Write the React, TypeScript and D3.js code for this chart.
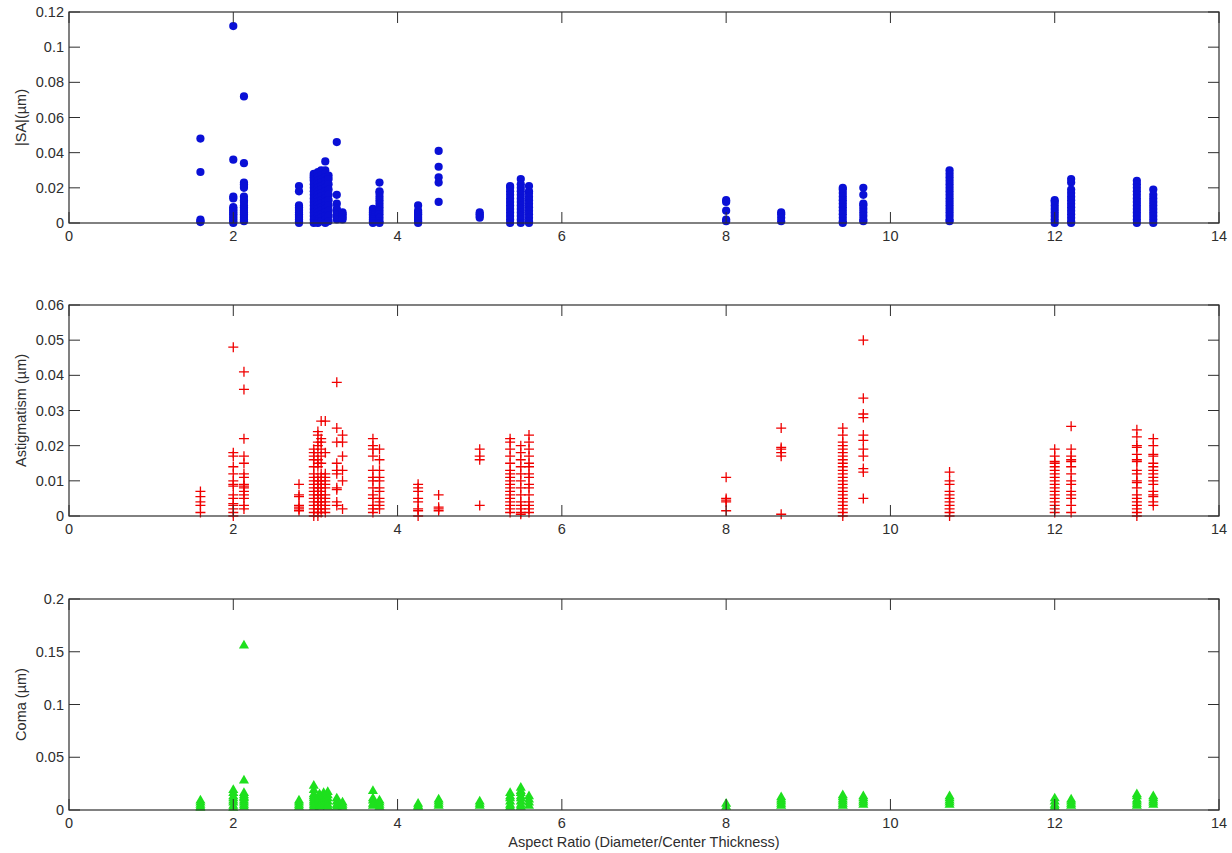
import React from "react";
import * as d3 from "d3";

// aspect ratio groups and the measured values at each one
const saData: [number, number[]][] = [
  [1.6, [0.048, 0.029, 0.002, 0.001, 0.0005]],
  [2.0, [0.112, 0.036, 0.015, 0.014, 0.009, 0.008, 0.007, 0.006, 0.005, 0.004, 0.003, 0.002, 0.001, 0.0]],
  [2.13, [0.072, 0.034, 0.023, 0.022, 0.021, 0.02, 0.015, 0.013, 0.012, 0.01, 0.009, 0.008, 0.007, 0.006, 0.005, 0.004, 0.003, 0.002, 0.001]],
  [2.8, [0.021, 0.018, 0.01, 0.009, 0.008, 0.007, 0.006, 0.005, 0.004, 0.003, 0.002, 0.001, 0.0]],
  [2.98, [0.028, 0.027, 0.026, 0.025, 0.024, 0.022, 0.02, 0.018, 0.016, 0.014, 0.012, 0.01, 0.008, 0.006, 0.004, 0.002, 0.0]],
  [3.03, [0.029, 0.028, 0.026, 0.024, 0.022, 0.02, 0.018, 0.016, 0.014, 0.012, 0.01, 0.008, 0.006, 0.004, 0.002, 0.001, 0.0]],
  [3.07, [0.03, 0.027, 0.025, 0.023, 0.021, 0.019, 0.017, 0.015, 0.013, 0.011, 0.009, 0.007, 0.005, 0.003, 0.001]],
  [3.12, [0.035, 0.03, 0.028, 0.026, 0.024, 0.022, 0.02, 0.018, 0.016, 0.014, 0.012, 0.01, 0.008, 0.006, 0.004, 0.002, 0.0]],
  [3.16, [0.027, 0.025, 0.022, 0.019, 0.016, 0.013, 0.01, 0.007, 0.004, 0.001]],
  [3.26, [0.046, 0.016, 0.011, 0.008, 0.007, 0.005, 0.004, 0.003, 0.002]],
  [3.33, [0.006, 0.005, 0.004, 0.003, 0.002]],
  [3.7, [0.008, 0.007, 0.006, 0.005, 0.004, 0.003, 0.002, 0.001, 0.0]],
  [3.78, [0.023, 0.018, 0.017, 0.015, 0.013, 0.011, 0.009, 0.007, 0.005, 0.003, 0.001, 0.0]],
  [4.25, [0.01, 0.007, 0.006, 0.005, 0.004, 0.003, 0.002, 0.001, 0.0]],
  [4.5, [0.041, 0.032, 0.026, 0.023, 0.012]],
  [5.0, [0.006, 0.005, 0.004, 0.003]],
  [5.37, [0.021, 0.02, 0.018, 0.016, 0.014, 0.012, 0.01, 0.008, 0.006, 0.004, 0.002, 0.0]],
  [5.5, [0.025, 0.022, 0.02, 0.018, 0.016, 0.014, 0.012, 0.01, 0.008, 0.006, 0.004, 0.002, 0.0]],
  [5.6, [0.021, 0.018, 0.017, 0.015, 0.013, 0.011, 0.009, 0.007, 0.005, 0.003, 0.001, 0.0]],
  [8.0, [0.013, 0.012, 0.007, 0.002, 0.001]],
  [8.67, [0.006, 0.005, 0.003, 0.001]],
  [9.42, [0.02, 0.019, 0.017, 0.015, 0.013, 0.011, 0.009, 0.007, 0.005, 0.003, 0.001, 0.0]],
  [9.67, [0.02, 0.016, 0.011, 0.01, 0.008, 0.006, 0.004, 0.002, 0.001]],
  [10.72, [0.03, 0.028, 0.026, 0.024, 0.022, 0.02, 0.018, 0.016, 0.014, 0.012, 0.01, 0.008, 0.006, 0.004, 0.002, 0.001]],
  [12.0, [0.013, 0.012, 0.01, 0.008, 0.006, 0.004, 0.002, 0.0]],
  [12.2, [0.025, 0.023, 0.019, 0.017, 0.015, 0.013, 0.011, 0.009, 0.007, 0.005, 0.003, 0.001, 0.0]],
  [13.0, [0.024, 0.022, 0.02, 0.018, 0.016, 0.014, 0.012, 0.01, 0.008, 0.006, 0.004, 0.002, 0.0]],
  [13.2, [0.019, 0.016, 0.014, 0.012, 0.01, 0.008, 0.006, 0.004, 0.002, 0.0]],
];

const astData: [number, number[]][] = [
  [1.6, [0.007, 0.0055, 0.004, 0.003, 0.001]],
  [2.0, [0.048, 0.018, 0.017, 0.014, 0.012, 0.01, 0.009, 0.0085, 0.006, 0.005, 0.0035, 0.003, 0.002, 0.001, 0.0]],
  [2.13, [0.041, 0.036, 0.022, 0.017, 0.015, 0.012, 0.011, 0.009, 0.0085, 0.008, 0.007, 0.006, 0.005, 0.003, 0.002]],
  [2.8, [0.009, 0.006, 0.0055, 0.003, 0.0025, 0.002, 0.0015]],
  [2.98, [0.019, 0.018, 0.017, 0.016, 0.014, 0.012, 0.011, 0.01, 0.009, 0.008, 0.007, 0.006, 0.005, 0.004, 0.003, 0.002, 0.001, 0.0]],
  [3.03, [0.024, 0.023, 0.021, 0.02, 0.018, 0.016, 0.015, 0.014, 0.011, 0.01, 0.009, 0.008, 0.007, 0.006, 0.005, 0.004, 0.003, 0.002, 0.001, 0.0]],
  [3.07, [0.027, 0.022, 0.021, 0.019, 0.017, 0.015, 0.012, 0.011, 0.01, 0.009, 0.008, 0.007, 0.006, 0.005, 0.004, 0.003, 0.002, 0.001]],
  [3.12, [0.027, 0.018, 0.012, 0.011, 0.01, 0.009, 0.008, 0.006, 0.005, 0.004, 0.003, 0.002, 0.001]],
  [3.26, [0.038, 0.025, 0.021, 0.015, 0.013, 0.012, 0.008, 0.0075, 0.004, 0.003]],
  [3.33, [0.023, 0.021, 0.017, 0.013, 0.01, 0.002]],
  [3.7, [0.022, 0.02, 0.019, 0.017, 0.013, 0.011, 0.01, 0.008, 0.006, 0.005, 0.003, 0.002, 0.001]],
  [3.78, [0.019, 0.016, 0.013, 0.011, 0.01, 0.008, 0.007, 0.005, 0.004, 0.003, 0.002]],
  [4.25, [0.009, 0.008, 0.007, 0.005, 0.004, 0.002, 0.0015, 0.0]],
  [4.5, [0.006, 0.0025, 0.002, 0.0015]],
  [5.0, [0.019, 0.017, 0.016, 0.003]],
  [5.37, [0.022, 0.021, 0.019, 0.017, 0.015, 0.013, 0.012, 0.011, 0.01, 0.009, 0.008, 0.007, 0.006, 0.005, 0.004, 0.003, 0.002, 0.001]],
  [5.5, [0.02, 0.018, 0.016, 0.014, 0.012, 0.01, 0.008, 0.006, 0.004, 0.003, 0.002, 0.001, 0.0005]],
  [5.6, [0.023, 0.021, 0.019, 0.017, 0.015, 0.014, 0.012, 0.011, 0.009, 0.008, 0.006, 0.004, 0.003, 0.002, 0.001]],
  [8.0, [0.011, 0.005, 0.0045, 0.004, 0.0015]],
  [8.67, [0.025, 0.0195, 0.019, 0.018, 0.017, 0.0005]],
  [9.42, [0.025, 0.023, 0.021, 0.02, 0.019, 0.018, 0.017, 0.016, 0.015, 0.014, 0.013, 0.012, 0.011, 0.01, 0.009, 0.008, 0.007, 0.006, 0.005, 0.004, 0.003, 0.002, 0.001, 0.0]],
  [9.67, [0.05, 0.0335, 0.029, 0.028, 0.023, 0.0215, 0.019, 0.017, 0.0135, 0.0125, 0.005]],
  [10.72, [0.0125, 0.01, 0.009, 0.007, 0.006, 0.005, 0.004, 0.003, 0.002, 0.001, 0.0]],
  [12.0, [0.019, 0.017, 0.0155, 0.015, 0.014, 0.013, 0.012, 0.011, 0.01, 0.009, 0.008, 0.007, 0.006, 0.005, 0.004, 0.003, 0.002, 0.001]],
  [12.2, [0.0255, 0.019, 0.017, 0.016, 0.0155, 0.014, 0.012, 0.01, 0.009, 0.007, 0.006, 0.005, 0.003, 0.001]],
  [13.0, [0.0245, 0.0225, 0.02, 0.0195, 0.0175, 0.016, 0.0155, 0.013, 0.012, 0.01, 0.0095, 0.008, 0.006, 0.005, 0.004, 0.003, 0.002, 0.001, 0.0]],
  [13.2, [0.022, 0.02, 0.0175, 0.017, 0.015, 0.014, 0.013, 0.012, 0.011, 0.01, 0.009, 0.007, 0.006, 0.0055, 0.004, 0.003]],
];

const comaData: [number, number[]][] = [
  [1.6, [0.008, 0.006, 0.004, 0.002, 0.001]],
  [2.0, [0.018, 0.015, 0.012, 0.01, 0.008, 0.006, 0.003, 0.001]],
  [2.13, [0.155, 0.027, 0.015, 0.013, 0.011, 0.01, 0.008, 0.006, 0.004, 0.002]],
  [2.8, [0.008, 0.006, 0.004, 0.002]],
  [2.98, [0.022, 0.018, 0.014, 0.012, 0.01, 0.008, 0.006, 0.004, 0.002]],
  [3.05, [0.014, 0.012, 0.01, 0.008, 0.006, 0.004, 0.002]],
  [3.1, [0.015, 0.012, 0.009, 0.006, 0.003]],
  [3.15, [0.016, 0.013, 0.01, 0.007, 0.004, 0.002]],
  [3.26, [0.01, 0.007, 0.004, 0.002]],
  [3.33, [0.006, 0.004, 0.002]],
  [3.7, [0.017, 0.01, 0.008, 0.005, 0.003]],
  [3.78, [0.008, 0.006, 0.004, 0.002]],
  [4.25, [0.005, 0.003, 0.002]],
  [4.5, [0.009, 0.007, 0.005, 0.003]],
  [5.0, [0.007, 0.005, 0.003]],
  [5.37, [0.015, 0.012, 0.01, 0.007, 0.004, 0.002]],
  [5.5, [0.02, 0.017, 0.015, 0.012, 0.01, 0.007, 0.004, 0.002]],
  [5.6, [0.012, 0.009, 0.006, 0.003]],
  [8.0, [0.005, 0.002]],
  [8.67, [0.011, 0.009, 0.007, 0.005, 0.003]],
  [9.42, [0.013, 0.011, 0.009, 0.007, 0.005, 0.003]],
  [9.67, [0.012, 0.01, 0.008, 0.006, 0.004]],
  [10.72, [0.012, 0.01, 0.008, 0.006, 0.004]],
  [12.0, [0.01, 0.007, 0.004, 0.002]],
  [12.2, [0.009, 0.007, 0.005, 0.003]],
  [13.0, [0.014, 0.012, 0.009, 0.007, 0.005, 0.003]],
  [13.2, [0.012, 0.01, 0.008, 0.006, 0.004]],
];

const xTicks = [0, 2, 4, 6, 8, 10, 12, 14];
const saTicks = [0, 0.02, 0.04, 0.06, 0.08, 0.1, 0.12];
const astTicks = [0, 0.01, 0.02, 0.03, 0.04, 0.05, 0.06];
const comaTicks = [0, 0.05, 0.1, 0.15, 0.2];

const W = 1232;
const H = 853;
const left = 69;
const right = 1219;
const font = "'Liberation Sans', Arial, sans-serif";
const fs = 14.5;
const axisColor = "#2e2e2e";
const fmt = d3.format("~g");

type Marker = "dot" | "plus" | "tri";

function Panel({ top, bottom, data, yTicks, label, marker, color }: {
  top: number; bottom: number; data: [number, number[]][]; yTicks: number[];
  label: string; marker: Marker; color: string;
}) {
  const x = d3.scaleLinear().domain([0, 14]).range([left, right]);
  const y = d3.scaleLinear().domain([0, yTicks[yTicks.length - 1]]).range([bottom, top]);
  const tl = 11;
  const pts = data.flatMap(([ar, vals]) => vals.map((v) => [ar, v] as [number, number]));
  const tri = d3.symbol(d3.symbolTriangle, 44)();
  return (
    <g>
      {pts.map(([a, v], i) => {
        const cx = x(a), cy = y(v);
        if (marker === "dot") return <circle key={i} cx={cx} cy={cy} r={4.1} fill={color} />;
        if (marker === "plus")
          return <path key={i} d={`M${cx - 5},${cy}H${cx + 5}M${cx},${cy - 5}V${cy + 5}`} stroke={color} strokeWidth={1.3} fill="none" />;
        return <path key={i} d={tri!} transform={`translate(${cx},${cy - 1})`} fill={color} />;
      })}
      <rect x={left} y={top} width={right - left} height={bottom - top} fill="none" stroke={axisColor} strokeWidth={1.2} />
      {xTicks.map((t) => (
        <g key={t}>
          <line x1={x(t)} x2={x(t)} y1={bottom} y2={bottom - tl} stroke={axisColor} />
          <line x1={x(t)} x2={x(t)} y1={top} y2={top + tl} stroke={axisColor} />
          <text x={x(t)} y={bottom + 18} textAnchor="middle" fontSize={fs} fontFamily={font} fill={axisColor}>{t}</text>
        </g>
      ))}
      {yTicks.map((t) => (
        <g key={t}>
          <line x1={left} x2={left + tl} y1={y(t)} y2={y(t)} stroke={axisColor} />
          <line x1={right} x2={right - tl} y1={y(t)} y2={y(t)} stroke={axisColor} />
          <text x={left - 5} y={y(t) + 5} textAnchor="end" fontSize={fs} fontFamily={font} fill={axisColor}>{fmt(t)}</text>
        </g>
      ))}
      <text transform={`translate(26,${(top + bottom) / 2}) rotate(-90)`} textAnchor="middle" fontSize={fs} fontFamily={font} fill={axisColor}>{label}</text>
    </g>
  );
}

export default function App() {
  return (
    <svg width={W} height={H} style={{ position: "absolute", left: 0, top: 0, background: "#fff" }}>
      <rect width={W} height={H} fill="#fff" />
      <Panel top={12} bottom={223} data={saData} yTicks={saTicks} label="|SA|(µm)" marker="dot" color="#0a10d6" />
      <Panel top={305} bottom={516} data={astData} yTicks={astTicks} label="Astigmatism (µm)" marker="plus" color="#f00000" />
      <Panel top={599} bottom={810} data={comaData} yTicks={comaTicks} label="Coma (µm)" marker="tri" color="#1ee01e" />
      <text x={(left + right) / 2} y={847} textAnchor="middle" fontSize={fs} fontFamily={font} fill={axisColor}>
        Aspect Ratio (Diameter/Center Thickness)
      </text>
    </svg>
  );
}
